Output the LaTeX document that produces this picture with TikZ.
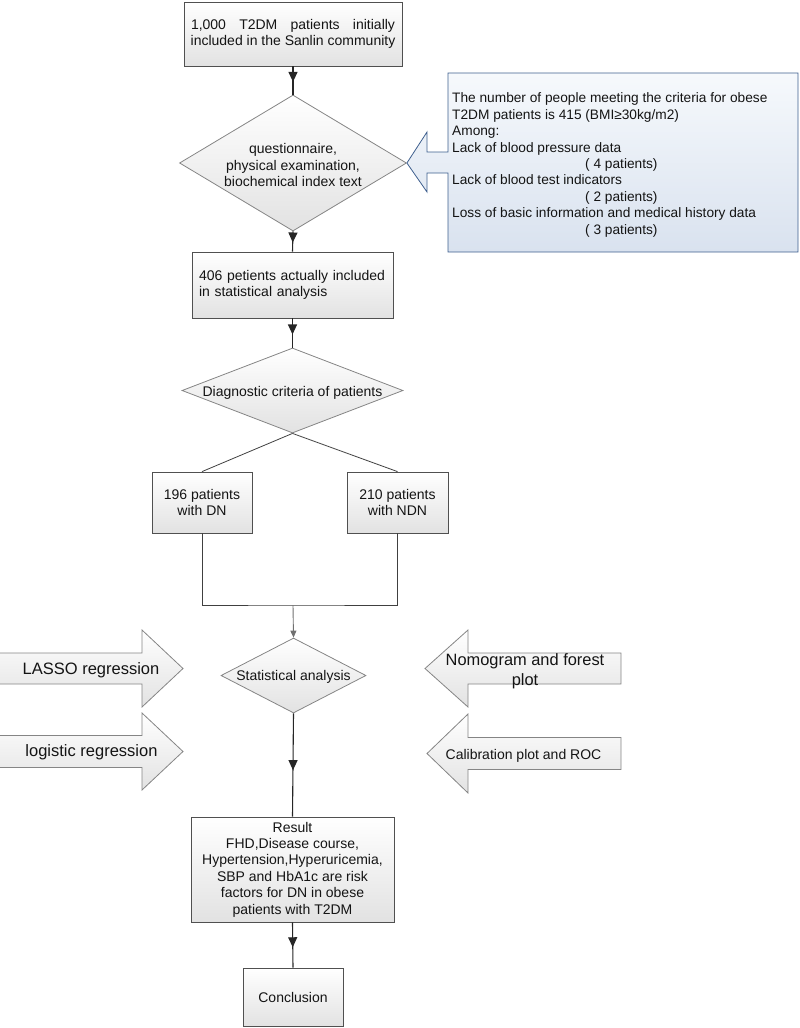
\documentclass[tikz,border=0pt]{standalone}
\usepackage{fontspec}
\setmainfont{Liberation Sans}
\usetikzlibrary{arrows.meta,decorations.markings,shapes.geometric}
\definecolor{txt}{HTML}{141414}
\definecolor{boxline}{HTML}{505050}
\definecolor{dialine}{HTML}{858585}
\definecolor{calline}{HTML}{3E5F8E}
\definecolor{caltop}{HTML}{F6F9FC}
\definecolor{calbot}{HTML}{D9E2EF}
\definecolor{fillbot}{HTML}{E2E2E2}
\definecolor{grayline}{HTML}{707070}
\tikzset{
  base/.style={font=\fontsize{14}{16.4}\selectfont, text=txt},
  procbox/.style={base, draw=boxline, line width=0.8pt, top color=white, bottom color=fillbot, inner sep=0pt, align=center},
  dia/.style={draw=dialine, line width=0.8pt, top color=white, bottom color=fillbot, shape=diamond, inner sep=0pt},
  flow/.style={draw=black!85, line width=1.1pt, postaction={decorate},
    decoration={markings, mark=at position 0.55 with {\arrow{Triangle[length=10pt,width=9pt]}}}},
  grayflow/.style={draw=grayline, line width=0.9pt, -{Triangle[length=7pt,width=6pt]}},
  plain/.style={draw=black!75, line width=0.8pt},
  sidearrow/.style={draw=dialine, line width=0.8pt, top color=white, bottom color=fillbot},
  bigtxt/.style={font=\fontsize{16.5}{20}\selectfont, text=txt, inner sep=0pt, align=center}
}
\begin{document}
\begin{tikzpicture}[x=1pt,y=-1pt]
\useasboundingbox (0,0) rectangle (800,1028);

% top box
\node[procbox, minimum width=218, minimum height=64] (b1) at (293,34)
  {\makebox[204pt][s]{1,000 T2DM patients initially}\\included in the Sanlin community};

% diamond 1
\node[dia, minimum width=227, minimum height=136,
  label={[base, align=center, yshift=-2pt]center:questionnaire,\\physical examination,\\biochemical index text}] (d1) at (293,163) {};

% callout
\draw[draw=calline, line width=0.8pt, top color=caltop, bottom color=calbot]
  (448,152) -- (448,73) -- (798,73) -- (798,252) -- (448,252) -- (448,173)
  -- (427,173) -- (427,192) -- (d1.east) -- (427,132) -- (427,152) -- cycle;
\node[base, font=\fontsize{13.7}{16.4}\selectfont, align=left, anchor=west, inner sep=0pt] (note) at (452,165)
  {The number of people meeting the criteria for obese\\
   T2DM patients is 415 (BMI≥30kg/m2)\\
   Among:\\
   Lack of blood pressure data\\
   \hspace*{133pt}( 4 patients)\\
   Lack of blood test indicators\\
   \hspace*{133pt}( 2 patients)\\
   Loss of basic information and medical history data\\
   \hspace*{133pt}( 3 patients)};

% box 2
\node[procbox, minimum width=201, minimum height=66, text width=187, align=left] (b2) at (292.5,285)
  {406 petients actually included\\in statistical analysis};

% diamond 2
\node[dia, minimum width=221, minimum height=85,
  label={[base, yshift=-2pt]center:Diagnostic criteria of patients}] (d2) at (292.5,390.5) {};

% DN / NDN
\node[procbox, minimum width=100, minimum height=61] (dn) at (202,502.5) {196 patients\\with DN};
\node[procbox, minimum width=101, minimum height=61] (ndn) at (397.5,502.5) {210 patients\\with NDN};

% diamond 3
\node[dia, minimum width=145, minimum height=75,
  label={[base, yshift=-1.5pt]center:Statistical analysis}] (d3) at (293.5,675.5) {};

% result and conclusion
\node[procbox, minimum width=203, minimum height=105] (res) at (292.5,869.5)
  {Result\\FHD,Disease course,\\Hypertension,Hyperuricemia,\\SBP and HbA1c are risk\\factors for DN in obese\\patients with T2DM};
\node[procbox, minimum width=100, minimum height=58] (concl) at (293,997) {Conclusion};

% side arrows
\draw[sidearrow] (-3,653) -- (142,653) -- (142,630) -- (183,668.5) -- (142,707) -- (142,684) -- (-3,684) -- cycle;
\node[bigtxt] (lasso) at (91,670) {LASSO regression};
\draw[sidearrow] (-3,735.5) -- (142,735.5) -- (142,713) -- (183,751.5) -- (142,790) -- (142,767.5) -- (-3,767.5) -- cycle;
\node[bigtxt] (logit) at (91.5,752) {logistic regression};
\draw[sidearrow] (621,653) -- (468,653) -- (468,630) -- (425,668.5) -- (468,707) -- (468,684) -- (621,684) -- cycle;
\node[bigtxt, font=\fontsize{16.4}{20}\selectfont] (nomo) at (525,671) {Nomogram and forest\\plot};
\draw[sidearrow] (621,737.5) -- (468,737.5) -- (468,714) -- (427,753.5) -- (468,793) -- (468,769.5) -- (621,769.5) -- cycle;
\node[base, inner sep=0pt] (calib) at (523.5,756) {Calibration plot and ROC};

% connectors
\draw[flow] (b1.south) -- (d1.north);
\draw[flow] (d1.south) -- (b2.north);
\draw[flow] (b2.south) -- (d2.north);
\draw[plain] (d2.south) -- (dn.north);
\draw[plain] (d2.south) -- (ndn.north);
\coordinate (merge) at (293,605);
\draw[plain] (dn.south) |- (merge) -| (ndn.south);
\draw[grayflow] (merge) -- (d3.north);
\draw[flow] (d3.south) -- (res.north);
\draw[flow] (res.south) -- (concl.north);
\end{tikzpicture}
\end{document}
